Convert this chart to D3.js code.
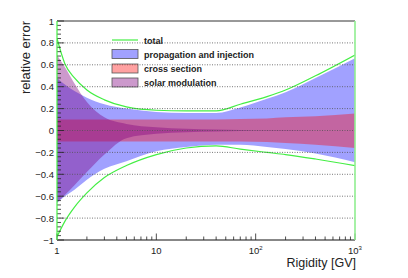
<!DOCTYPE html>
<html>
<head>
<meta charset="utf-8">
<script src="https://cdn.jsdelivr.net/npm/d3@7"></script>
<style>
  body { margin: 0; background: #fff; }
  svg text { font-family: "Liberation Sans", Arial, sans-serif; fill: #222; }
</style>
</head>
<body>
<svg id="chart" width="408" height="278"></svg>
<script>
// rigidity points (GV) and the error bands
var rigidity  = [1, 1.2, 1.5, 2, 3, 5, 10, 20, 40, 70, 130, 200, 400, 1000];
var totalUp   = [0.84, 0.61, 0.48, 0.37, 0.28, 0.215, 0.185, 0.18, 0.18, 0.24, 0.31, 0.37, 0.50, 0.69];
var totalLow  = [-0.97, -0.83, -0.70, -0.57, -0.43, -0.32, -0.22, -0.16, -0.14, -0.17, -0.20, -0.22, -0.26, -0.32];
var propUp    = [0.48, 0.42, 0.36, 0.30, 0.24, 0.20, 0.17, 0.16, 0.16, 0.21, 0.29, 0.35, 0.48, 0.66];
var propLow   = [-0.66, -0.60, -0.54, -0.45, -0.35, -0.28, -0.19, -0.15, -0.13, -0.13, -0.15, -0.17, -0.21, -0.29];
var xsecUp    = [0.10, 0.10, 0.10, 0.10, 0.10, 0.10, 0.10, 0.10, 0.10, 0.105, 0.11, 0.12, 0.13, 0.155];
var xsecLow   = [-0.10, -0.10, -0.10, -0.10, -0.10, -0.10, -0.10, -0.10, -0.10, -0.10, -0.105, -0.115, -0.13, -0.16];
var solarUp   = [0.69, 0.58, 0.43, 0.26, 0.12, 0.06, 0.03, 0.015, 0.008, 0.005, 0.003, 0.002, 0.001, 0.001];
var solarLow  = [-0.66, -0.59, -0.50, -0.38, -0.22, -0.07, -0.03, -0.015, -0.008, -0.005, -0.003, -0.002, -0.001, -0.001];

var yTicks = [-1, -0.8, -0.6, -0.4, -0.2, 0, 0.2, 0.4, 0.6, 0.8, 1];
var xTicks = [1, 10, 100, 1000];
var xTickLabels = [['1', ''], ['10', ''], ['10', '2'], ['10', '3']];
var legendNames = ['total', 'propagation and injection', 'cross section', 'solar modulation'];

// plot frame in pixels ("top" is reserved on window, so prefixed names)
var pL = 57, pR = 355, pT = 21, pB = 240;

var svg = d3.select('#chart');

var x = d3.scaleLog().domain([1, 1000]).range([pL, pR]);
var y = d3.scaleLinear().domain([-1, 1]).range([pB, pT]);

svg.append('clipPath').attr('id', 'plotclip')
  .append('rect').attr('x', pL).attr('y', pT)
  .attr('width', pR - pL).attr('height', pB - pT);

var plot = svg.append('g').attr('clip-path', 'url(#plotclip)');

function band(up, low) {
  return d3.area()
    .x(function(d, i) { return x(rigidity[i]); })
    .y0(function(d, i) { return y(low[i]); })
    .y1(function(d, i) { return y(up[i]); })
    .curve(d3.curveMonotoneX)(rigidity);
}

var blueFill = 'rgba(0,0,255,0.37)';
var redFill = 'rgba(255,0,0,0.37)';
var purpleFill = 'rgba(128,0,128,0.4)';

plot.append('path').attr('d', band(propUp, propLow)).attr('fill', blueFill);
plot.append('path').attr('d', band(xsecUp, xsecLow)).attr('fill', redFill);
plot.append('path').attr('d', band(solarUp, solarLow)).attr('fill', purpleFill);

// dotted grid on top of the fills
svg.selectAll('.grid')
  .data(yTicks.filter(function(t) { return t > -1 && t < 1; }))
  .enter().append('line')
  .attr('class', 'grid')
  .attr('x1', pL).attr('x2', pR)
  .attr('y1', function(d) { return y(d); }).attr('y2', function(d) { return y(d); })
  .attr('stroke', '#555').attr('stroke-width', 0.8)
  .attr('stroke-dasharray', '1,1.5');

// total lines
var line = function(vals) {
  return d3.line()
    .x(function(d, i) { return x(rigidity[i]); })
    .y(function(d, i) { return y(vals[i]); })
    .curve(d3.curveMonotoneX)(rigidity);
};
var green = '#44ee44';
plot.append('path').attr('d', line(totalUp)).attr('fill', 'none').attr('stroke', green).attr('stroke-width', 1.2);
plot.append('path').attr('d', line(totalLow)).attr('fill', 'none').attr('stroke', green).attr('stroke-width', 1.2);

// frame
svg.append('line').attr('x1', pL).attr('x2', pR).attr('y1', pT).attr('y2', pT)
  .attr('stroke', '#333').attr('stroke-width', 1);
svg.append('line').attr('x1', pL).attr('x2', pR).attr('y1', pB).attr('y2', pB)
  .attr('stroke', '#111').attr('stroke-width', 1);

// y axis ticks
var yMinor = d3.range(0, 51).map(function(k) { return -1 + k * 0.04; });
svg.selectAll('.ymin').data(yMinor).enter().append('line')
  .attr('x1', pL).attr('x2', function(d, i) { return pL + (i % 5 === 0 ? 7 : 4); })
  .attr('y1', function(d) { return y(d); }).attr('y2', function(d) { return y(d); })
  .attr('stroke', '#222').attr('stroke-width', 0.8);

svg.selectAll('.ylab').data(yTicks).enter().append('text')
  .attr('x', pL - 3).attr('y', function(d) { return y(d) + 3.5; })
  .attr('text-anchor', 'end').attr('font-size', '9.5px')
  .text(function(d) { return d3.format('~g')(d); });

// x axis ticks (log)
var xMinor = [];
[1, 10, 100].forEach(function(dec) {
  for (var k = 2; k <= 9; k++) xMinor.push(dec * k);
});
svg.selectAll('.xmin').data(xMinor).enter().append('line')
  .attr('x1', function(d) { return x(d); }).attr('x2', function(d) { return x(d); })
  .attr('y1', pB).attr('y2', pB - 3.5)
  .attr('stroke', '#222').attr('stroke-width', 0.8);
svg.selectAll('.xmaj').data(xTicks).enter().append('line')
  .attr('x1', function(d) { return x(d); }).attr('x2', function(d) { return x(d); })
  .attr('y1', pB).attr('y2', pB - 6.5)
  .attr('stroke', '#222').attr('stroke-width', 0.8);

var xl = svg.selectAll('.xlab').data(xTicks).enter().append('text')
  .attr('x', function(d) { return x(d); }).attr('y', pB + 14)
  .attr('text-anchor', 'middle').attr('font-size', '9.5px');
xl.append('tspan').text(function(d, i) { return xTickLabels[i][0]; });
xl.append('tspan').attr('font-size', '6px').attr('dy', -4)
  .text(function(d, i) { return xTickLabels[i][1]; });

// green edges of the total curve
svg.append('line').attr('x1', pL).attr('x2', pL).attr('y1', pT).attr('y2', pB)
  .attr('stroke', green).attr('stroke-width', 1.2);
svg.append('line').attr('x1', pR).attr('x2', pR).attr('y1', pT).attr('y2', pB)
  .attr('stroke', '#90ee90').attr('stroke-width', 1.6);

// axis titles
svg.append('text').attr('x', pR + 1).attr('y', 267)
  .attr('text-anchor', 'end').attr('font-size', '12.5px').text('Rigidity [GV]');
svg.append('text')
  .attr('transform', 'translate(30,' + pT + ') rotate(-90)')
  .attr('text-anchor', 'end').attr('font-size', '13px').text('relative error');

// legend
var legendY = [40, 54, 68.5, 82.5];
var legendCols = [null, blueFill, redFill, purpleFill];
var lg = svg.append('g');
legendNames.forEach(function(name, i) {
  if (i === 0) {
    lg.append('line').attr('x1', 112).attr('x2', 138)
      .attr('y1', legendY[i]).attr('y2', legendY[i])
      .attr('stroke', green).attr('stroke-width', 1.2);
  } else {
    lg.append('rect').attr('x', 112).attr('y', legendY[i] - 4.5)
      .attr('width', 26).attr('height', 9)
      .attr('fill', legendCols[i]).attr('stroke', '#555').attr('stroke-width', 0.8);
  }
  lg.append('text').attr('x', 144).attr('y', legendY[i] + 3.5)
    .attr('font-size', '9px').attr('font-weight', 'bold').text(name);
});
</script>
</body>
</html>
